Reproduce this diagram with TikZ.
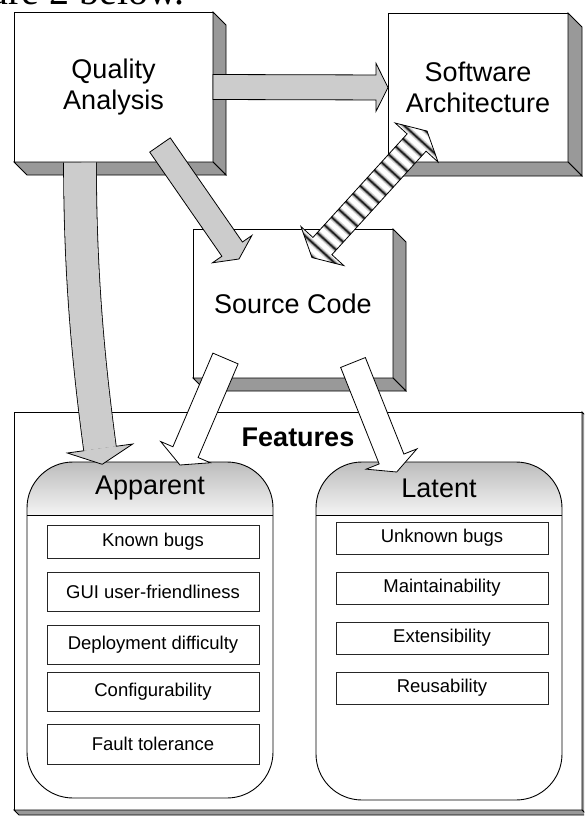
\documentclass[tikz,border=0pt]{standalone}
\usepackage{fontspec}
\setmainfont{Liberation Sans}
\newfontfamily\pageserif{Liberation Serif}
\usetikzlibrary{calc}

\definecolor{shadowgray}{RGB}{153,153,153}
\definecolor{arrowgray}{RGB}{204,204,204}
\definecolor{hdrtop}{RGB}{188,188,188}
\definecolor{hdrbot}{RGB}{244,244,244}

\tikzset{
  frontface/.style={draw=black, line width=0.8pt, fill=white, inner sep=0pt, outer sep=0pt},
  shadowface/.style={draw=black, line width=0.8pt, fill=shadowgray},
  bigtext/.style={font=\fontsize{27}{31}\selectfont, align=center},
  titletext/.style={font=\bfseries\fontsize{27}{31}\selectfont},
  itembox/.style={draw=black!85, line width=0.8pt, fill=white, font=\fontsize{18.5}{22}\selectfont,
                  inner sep=0pt, outer sep=0pt, anchor=north west, minimum width=212pt},
  grayarrow/.style={draw=black, line width=0.8pt, fill=arrowgray},
  whitearrow/.style={draw=black, line width=0.8pt, fill=white},
}

% 3D box: #1 name, #2 x, #3 y, #4 width, #5 height, #6 depth, #7 text
\newcommand{\tdbox}[7]{%
  \node[frontface, bigtext, anchor=north west, minimum width=#4pt, minimum height=#5pt] (#1) at (#2,#3) {#7};
  \draw[shadowface] (#1.north east) -- ++(#6,#6) -- ($(#1.south east)+(#6,#6)$) -- (#1.south east) -- cycle;
  \draw[shadowface] (#1.south west) -- ++(#6,#6) -- ($(#1.south east)+(#6,#6)$) -- (#1.south east) -- cycle;
}

% rounded feature column: #1 name, #2 x, #3 y, #4 w, #5 h, #6 header h, #7 title
\newcommand{\featcol}[7]{%
  \node[anchor=north west, minimum width=#4pt, minimum height=#5pt, inner sep=0pt, outer sep=0pt] (#1) at (#2,#3) {};
  \begin{scope}
    \clip[rounded corners=46pt] (#1.north west) rectangle (#1.south east);
    \fill[white] (#1.north west) rectangle (#1.south east);
    \shade[top color=hdrtop, bottom color=hdrbot] (#1.north west) rectangle ($(#1.north east)+(0,#6)$);
  \end{scope}
  \draw[line width=0.9pt] ($(#1.north west)+(0,#6)$) -- ($(#1.north east)+(0,#6)$);
  \draw[line width=0.9pt, rounded corners=46pt] (#1.north west) rectangle (#1.south east);
  \node[bigtext] (#1-title) at ($(#1.north)+(0,#6/2)$) {#7};
}

% straight block arrow: [style] tail, tip, half shaft, half head, head length
\newcommand{\blockarrow}[6][]{%
  \coordinate (tmpB) at ($(#3)!#6!(#2)$);
  \draw[#1] ($(#2)!#4!90:(#3)$) -- ($(tmpB)!#4!90:(#3)$) -- ($(tmpB)!#5!90:(#3)$) -- (#3)
     -- ($(tmpB)!#5!-90:(#3)$) -- ($(tmpB)!#4!-90:(#3)$) -- ($(#2)!#4!-90:(#3)$) -- cycle;
}

\begin{document}
\begin{tikzpicture}[x=1pt,y=-1pt]
\useasboundingbox (0,0) rectangle (584,816);
\clip (0,0) rectangle (584,816);

% clipped line of page text above the figure
\node[anchor=base east, font=\pageserif\fontsize{40}{40}\selectfont, inner sep=0pt] (pagetext) at (185,5) {ure 2 below.};

% Features container
\tdbox{feat}{14}{412}{568}{398}{5}{}
\node[titletext] (feattitle) at (298,437) {Features};

% Apparent column
\featcol{app}{27}{462}{246}{336}{53}{Apparent}
\node[itembox, minimum height=33pt] (ap1) at (47,525) {Known bugs};
\node[itembox, minimum height=39pt] (ap2) at (47,572) {GUI user-friendliness};
\node[itembox, minimum height=39pt] (ap3) at (47,625) {Deployment difficulty};
\node[itembox, minimum height=39pt] (ap4) at (47,672) {Configurability};
\node[itembox, minimum height=40pt] (ap5) at (47,724) {Fault tolerance};

% Latent column
\featcol{lat}{316}{462}{246}{338}{53}{Latent}
\node[itembox, minimum height=32pt] (lt1) at (336,522) {Unknown bugs};
\node[itembox, minimum height=32pt] (lt2) at (336,572) {Maintainability};
\node[itembox, minimum height=32pt] (lt3) at (336,622) {Extensibility};
\node[itembox, minimum height=32pt] (lt4) at (336,672) {Reusability};

% 3D boxes
\tdbox{qa}{14}{12}{199}{150}{13}{Quality\\Analysis}
\tdbox{sa}{388}{13}{180}{149}{14}{Software\\Architecture}
\tdbox{sc}{193}{229}{200}{149}{13}{Source Code}

% Quality Analysis -> Software Architecture
\blockarrow[grayarrow]{qa.east}{sa.west}{12.5pt}{24pt}{12pt}

% Quality Analysis -> Source Code
\coordinate (a2tail) at ($(qa.south east)+(-53,-17)$);
\coordinate (a2tip) at ($(sc.north west)+(46,30)$);
\blockarrow[grayarrow]{a2tail}{a2tip}{12.5pt}{24pt}{12pt}

% Quality Analysis -> Apparent (curved)
\coordinate (c3s) at ($(qa.south west)+(66,0.5)$);
\coordinate (c3b) at (100,448.5);
\draw[line width=33.6pt, black] (c3s) .. controls (80,262) and (86.5,349) .. (c3b);
\draw[line width=32pt, arrowgray] (c3s) .. controls (80,262) and (86.5,349) .. (c3b);
\filldraw[fill=arrowgray, draw=black, line width=0.8pt] (84.2,450.7) -- (67.3,453.0) -- (102.2,464.3) -- (132.7,444.0) -- (115.8,446.3);

% Source Code <-> Software Architecture (striped double arrow)
\begin{scope}[shift={(369.5,194.3)}, rotate=47.7]
  \begin{scope}
    \clip (-85.5,0) -- (-70,29) -- (-70,12.8) -- (70,12.8) -- (70,29) -- (85.5,0)
          -- (70,-29) -- (70,-12.8) -- (-70,-12.8) -- (-70,-29) -- cycle;
    \fill[white] (-90,-32) rectangle (90,32);
    \foreach \k in {-8,...,8} {
      \draw[line width=5.5pt, black!16] (\k*10.6,-32) -- (\k*10.6,32);
      \draw[line width=3.2pt, black!45] (\k*10.6,-32) -- (\k*10.6,32);
      \draw[line width=1.5pt, black!88] (\k*10.6,-32) -- (\k*10.6,32);
    }
  \end{scope}
  \draw[line width=0.8pt] (-85.5,0) -- (-70,29) -- (-70,12.8) -- (70,12.8) -- (70,29) -- (85.5,0)
          -- (70,-29) -- (70,-12.8) -- (-70,-12.8) -- (-70,-29) -- cycle;
\end{scope}

% Source Code -> Apparent, Source Code -> Latent
\coordinate (w1tail) at ($(sc.south west)+(32.5,-19.5)$);
\coordinate (w1tip) at (180,465);
\blockarrow[whitearrow]{w1tail}{w1tip}{13.7pt}{27pt}{14pt}
\coordinate (w2tail) at ($(sc.south west)+(160,-15.5)$);
\coordinate (w2tip) at (396.7,472);
\blockarrow[whitearrow]{w2tail}{w2tip}{13.3pt}{27.4pt}{14pt}

\end{tikzpicture}
\end{document}
